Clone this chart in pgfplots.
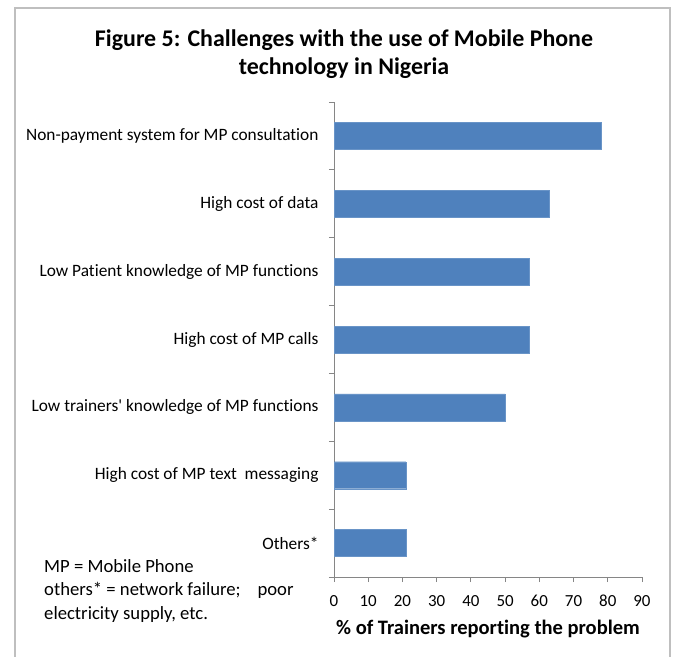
\documentclass[border=0pt]{standalone}
\usepackage{pgfplots}
\pgfplotsset{compat=1.18}
\usepackage{fontspec}
\setmainfont{Carlito}[Ligatures=NoCommon]
\definecolor{barblue}{HTML}{4F81BD}
\definecolor{axgray}{HTML}{868686}
\definecolor{framegray}{HTML}{BFBFBF}
\begin{document}
\begin{tikzpicture}
\useasboundingbox (0,0) rectangle (675bp,657bp);
\draw[framegray, line width=1.2bp] (15bp,-2bp) -- (15bp,649bp) -- (670bp,649bp) -- (670bp,-2bp);
\node[anchor=base, font=\fontsize{24}{28}\selectfont\bfseries] at (344bp,610.5bp) {Figure 5: Challenges with the use of Mobile Phone};
\node[anchor=base, font=\fontsize{24}{28}\selectfont\bfseries] at (344bp,582.5bp) {technology in Nigeria};
\node[anchor=base west, font=\fontsize{18.75}{22}\selectfont, inner sep=0pt] at (44bp,84bp) {MP = Mobile Phone};
\node[anchor=base west, font=\fontsize{18.75}{22}\selectfont, inner sep=0pt] at (44bp,61bp) {others* = network failure;\hspace{0.9em}poor};
\node[anchor=base west, font=\fontsize{18.75}{22}\selectfont, inner sep=0pt] at (44bp,38bp) {electricity supply, etc.};
\begin{axis}[
  at={(334bp,80bp)}, anchor=south west,
  scale only axis, width=308bp, height=475bp,
  xmin=0, xmax=90, ymin=-0.5, ymax=6.5,
  axis lines*=left,
  axis line style={axgray, line width=0.8bp},
  xbar, bar width=27bp,
  xtick={0,10,...,90},
  ytick={0,...,6},
  yticklabels={Others*, High cost of MP text\ \ messaging, Low trainers\textquotesingle\ knowledge of MP functions, High cost of MP calls, Low Patient knowledge of MP functions, High cost of data, Non-payment system for MP consultation},
  ytick style={draw=none},
  extra y ticks={-0.5,0.5,...,6.5},
  extra y tick labels={},
  extra y tick style={ytick style={draw=axgray, line width=0.8bp}},
  tick align=outside,
  major tick length=5bp,
  xtick style={axgray, line width=0.8bp},
  /pgf/number format/assume math mode=true,
  xticklabel style={font=\fontsize{17}{20}\selectfont, text height=11bp, text depth=0bp, yshift=-10bp},
  yticklabel style={font=\fontsize{17.4}{20}\selectfont, xshift=-7bp},
  xlabel={\% of Trainers reporting the problem},
  xlabel style={font=\fontsize{20.6}{24}\selectfont\bfseries, yshift=-7bp},
  clip=false,
]
\addplot[fill=barblue, draw=barblue!85!white] coordinates {(78,6) (63,5) (57,4) (57,3) (50,2) (21,1) (21,0)};
\end{axis}
\end{tikzpicture}
\end{document}
